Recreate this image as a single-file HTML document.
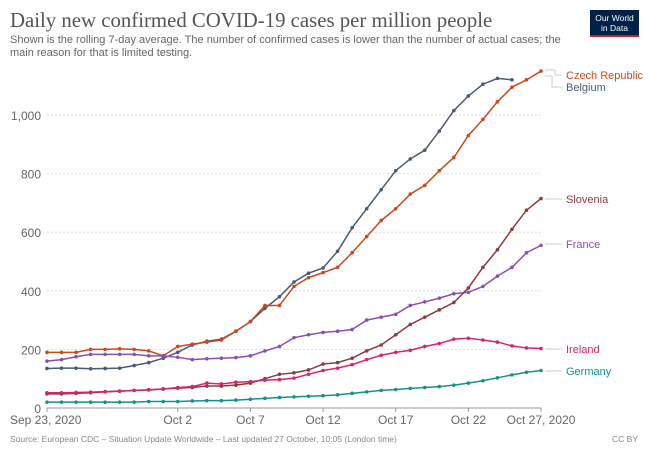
<!DOCTYPE html>
<html><head><meta charset="utf-8"><style>
body{margin:0;background:#fff;font-family:"Liberation Sans",sans-serif}
svg{display:block}
</style></head><body>
<svg width="650" height="458" xmlns="http://www.w3.org/2000/svg" font-family="Liberation Sans, sans-serif">
<text x="10" y="27" font-family="Liberation Serif, serif" font-size="20.8" fill="#555">Daily new confirmed COVID-19 cases per million people</text>
<text x="10" y="43" font-size="11" fill="#666">Shown is the rolling 7-day average. The number of confirmed cases is lower than the number of actual cases; the</text>
<text x="10" y="56" font-size="11" fill="#666">main reason for that is limited testing.</text>
<rect x="590" y="10" width="49" height="27" fill="#002147"/>
<rect x="590" y="35" width="49" height="2" fill="#c2232d"/>
<text x="614.5" y="21" font-size="8.5" fill="#fff" text-anchor="middle">Our World</text>
<text x="614.5" y="31" font-size="8.5" fill="#fff" text-anchor="middle">in Data</text>
<g id="grid"></g>
<g id="series"></g>
<text x="10" y="442" font-size="8.5" fill="#888">Source: European CDC – Situation Update Worldwide – Last updated 27 October, 10:05 (London time)</text>
<text x="638" y="442" font-size="8.5" fill="#888" text-anchor="end">CC BY</text>
</svg>
<script>
const NS="http://www.w3.org/2000/svg";
const x0=47,dx=14.53,y0=408,k=0.293;
const X=i=>x0+i*dx,Y=v=>y0-v*k;
const g=document.getElementById('grid'),s=document.getElementById('series');
function el(p,t,a,txt){const e=document.createElementNS(NS,t);for(const q in a)e.setAttribute(q,a[q]);if(txt)e.textContent=txt;p.appendChild(e);return e;}
[0,200,400,600,800,1000].forEach(v=>{
 if(v>0)el(g,'line',{x1:47,x2:541,y1:Y(v),y2:Y(v),stroke:'#ddd','stroke-dasharray':'2,2'});
 el(g,'text',{x:41,y:Y(v)+5,'font-size':'12','fill':'#666','text-anchor':'end'},v==1000?'1,000':String(v));
});
el(g,'line',{x1:47,x2:541,y1:y0,y2:y0,stroke:'#999'});
[[0,'Sep 23, 2020'],[9,'Oct 2'],[14,'Oct 7'],[19,'Oct 12'],[24,'Oct 17'],[29,'Oct 22'],[34,'Oct 27, 2020']].forEach(([i,t])=>{
 el(g,'line',{x1:X(i),x2:X(i),y1:y0,y2:y0+4,stroke:'#999'});
 el(g,'text',{x:i==0?10:X(i),y:424,'font-size':'12',fill:'#666','text-anchor':i==0?'start':'middle'},t);
});
const D=[
['#4a5b75',[135,136,136,134,135,136,145,155,170,190,215,228,235,262,295,340,380,430,460,478,535,615,680,745,810,850,880,945,1015,1065,1105,1125,1120]],
['#c9491c',[190,190,190,200,200,202,200,195,178,210,218,225,232,262,295,350,350,415,445,462,480,530,585,640,680,730,760,810,855,930,985,1045,1095,1120,1150]],
['#8b4fb3',[160,165,175,183,183,183,183,178,178,173,165,168,170,172,178,195,210,240,250,258,262,268,300,310,320,350,362,375,390,395,415,450,480,530,555]],
['#8c3b3b',[48,48,50,52,55,57,60,62,65,68,70,75,75,78,85,100,115,120,130,150,155,170,195,215,250,285,310,335,360,410,480,540,610,675,715]],
['#d6246e',[52,52,53,54,56,58,60,62,65,70,73,85,82,88,90,95,97,102,115,128,136,148,165,180,190,197,210,220,235,238,232,225,212,205,203]],
['#12938b',[20,20,20,20,20,20,20,20,22,22,22,24,25,25,27,30,33,36,38,40,42,45,50,55,60,63,67,70,73,78,85,93,103,113,122,128].slice(1)]
];
D.forEach(([c,a])=>{
 el(s,'polyline',{points:a.map((v,i)=>X(i)+','+Y(v)).join(' '),fill:'none',stroke:c,'stroke-width':1.5});
 a.forEach((v,i)=>el(s,'circle',{cx:X(i),cy:Y(v),r:1.8,fill:c}));
});
const L=[['Czech Republic','#c9491c',1150,75],['Belgium','#4a5b75',null,87],['Slovenia','#8c3b3b',713,199],['France','#8b4fb3',555,244],['Ireland','#d6246e',203,349],['Germany','#12938b',128,371]];
L.forEach(([t,c,v,ly])=>{
 if(t=='Belgium'){el(s,'polyline',{points:`545,76 552,76 552,${ly} 562,${ly}`,fill:'none',stroke:'#ccc'});}
 else if(t=='Czech Republic'){el(s,'polyline',{points:`545,70 555,70 555,${ly} 562,${ly}`,fill:'none',stroke:'#ccc'});}
 else el(s,'line',{x1:545,x2:562,y1:ly,y2:ly,stroke:'#ccc'});
 el(s,'text',{x:566,y:ly+4,'font-size':'11',fill:c},t);
});
</script>
</body></html>
